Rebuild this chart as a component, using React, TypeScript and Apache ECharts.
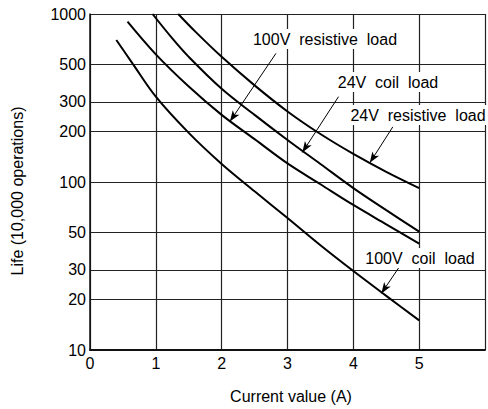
import React, { useEffect, useRef } from 'react';
import * as echarts from 'echarts';

const xTickValues = [0, 1, 2, 3, 4, 5];
const yTickValues = [10, 20, 30, 50, 100, 200, 300, 500, 1000];

const coil100X = [0.4, 0.65, 1, 1.5, 2, 2.5, 3, 3.5, 4, 4.5, 5];
const coil100Y = [700, 505, 322, 196, 128, 88, 61, 42, 29.5, 21, 15];

const res100X = [0.57, 1, 1.5, 2, 2.5, 3, 3.5, 4, 4.5, 5];
const res100Y = [900, 575, 370, 251, 180, 129, 97, 73, 56, 43];

const coil24X = [0.95, 1.25, 1.5, 2, 2.5, 3, 3.5, 4, 4.5, 5];
const coil24Y = [1000, 716, 556, 359, 251, 178, 128, 92, 68, 50.6];

const res24X = [1.34, 1.6, 2, 2.5, 3, 3.5, 4, 4.5, 5];
const res24Y = [1000, 785, 556, 376, 263, 193, 147, 115, 92];

const seriesNames = ['100V coil load', '100V resistive load', '24V coil load', '24V resistive load'];

// arrow start/end in data units
const arrowFromX = [2.825, 3.775, 4.6, 4.7];
const arrowFromY = [583, 322, 213, 31.3];
const arrowToX = [2.125, 3.225, 4.25, 4.425];
const arrowToY = [229, 150, 130, 21.7];

const labelTexts = ['100V resistive load', '24V coil load', '24V resistive load', '100V coil load'];

const FONT = '"Liberation Sans", Arial, Helvetica, sans-serif';

function pairs(xs: number[], ys: number[]) {
  return xs.map((x, i) => [x, ys[i]]);
}

export default function App() {
  const ref = useRef<HTMLDivElement>(null);
  useEffect(() => {
    document.body.style.margin = '0';
    const chart = echarts.init(ref.current!, null, { renderer: 'svg' });
    const lineSeries = [
      pairs(coil100X, coil100Y),
      pairs(res100X, res100Y),
      pairs(coil24X, coil24Y),
      pairs(res24X, res24Y),
    ].map((data, i) => ({
      type: 'line',
      name: seriesNames[i],
      data,
      symbol: 'none',
      smooth: 0.35,
      lineStyle: { color: '#000', width: 2 },
      z: 5,
      markLine:
        i === 0
          ? {
              silent: true,
              symbol: ['none', 'arrow'],
              symbolSize: [6, 11],
              label: { show: false },
              lineStyle: { color: '#000', width: 1, type: 'solid' },
              data: arrowFromX.map((fx, k) => [
                { coord: [fx, arrowFromY[k]] },
                { coord: [arrowToX[k], arrowToY[k]] },
              ]),
            }
          : undefined,
    }));

    const labelPos = [
      [325, 39],
      [388, 82],
      [418, 115],
      [420, 258],
    ];

    chart.setOption({
      animation: false,
      backgroundColor: '#fff',
      textStyle: { fontFamily: FONT },
      grid: { left: 90, right: -2, top: 14, bottom: 59, containLabel: false },
      xAxis: {
        type: 'value',
        min: 0,
        max: 6,
        interval: 1,
        axisLine: { show: true, lineStyle: { color: '#111', width: 2 } },
        axisTick: { show: false },
        axisLabel: {
          color: '#000',
          fontSize: 16,
          fontFamily: FONT,
          margin: 5,
          formatter: (v: number) => (xTickValues.indexOf(v) >= 0 ? String(v) : ''),
        },
        splitLine: { show: true, lineStyle: { color: '#222', width: 1.2 } },
      },
      yAxis: {
        type: 'log',
        logBase: 10,
        min: 10,
        max: 1000,
        axisLine: { show: true, lineStyle: { color: '#111', width: 1.5 } },
        axisTick: { show: false, customValues: yTickValues },
        axisLabel: {
          color: '#000',
          fontSize: 16,
          fontFamily: FONT,
          margin: 4,
          customValues: yTickValues,
          formatter: (v: number) => String(Math.round(v)),
        },
        splitLine: { show: true, lineStyle: { color: '#222', width: 1.2 } },
        minorSplitLine: { show: false },
      },
      series: lineSeries,
      graphic: [
        ...labelTexts.map((t, i) => ({
          type: 'text',
          x: labelPos[i][0],
          y: labelPos[i][1],
          z: 100,
          style: {
            text: t.replace(/ /g, '  '),
            fill: '#000',
            font: `16px ${FONT}`,
            align: 'center',
            verticalAlign: 'middle',
            backgroundColor: '#fff',
            padding: [2, 2],
          },
        })),
        {
          type: 'text',
          x: 291,
          y: 396,
          z: 100,
          style: {
            text: 'Current value (A)',
            fill: '#000',
            font: `16px ${FONT}`,
            align: 'center',
            verticalAlign: 'middle',
          },
        },
        {
          type: 'text',
          x: 17,
          y: 191,
          rotation: Math.PI / 2,
          z: 100,
          style: {
            text: 'Life (10,000 operations)',
            fill: '#000',
            font: `16px ${FONT}`,
            align: 'center',
            verticalAlign: 'middle',
          },
        },
      ],
    });
    return () => chart.dispose();
  }, []);
  return <div ref={ref} style={{ width: 488, height: 409 }} />;
}
